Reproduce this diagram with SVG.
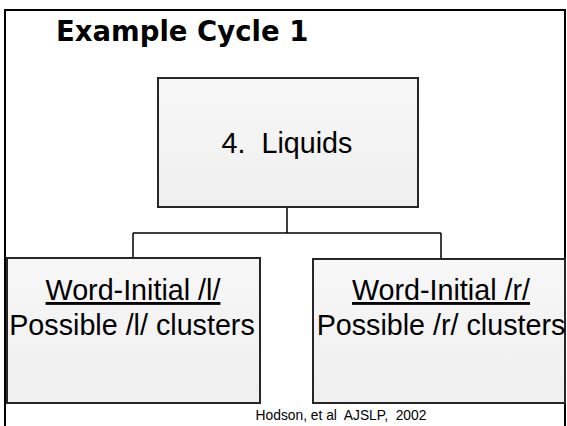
<svg xmlns="http://www.w3.org/2000/svg" width="567" height="426" viewBox="0 0 567 426">
<defs>
<linearGradient id="g" x1="0" y1="0" x2="0" y2="1">
<stop offset="0" stop-color="#f7f7f7"/>
<stop offset="1" stop-color="#efefef"/>
</linearGradient>
</defs>
<style>
.box{fill:url(#g);stroke:#262626;stroke-width:2}
.t{font-family:"Liberation Sans",Arial,sans-serif;fill:#000;text-anchor:middle}
.conn{stroke:#000;stroke-width:1.5;fill:none}
</style>
<rect x="5" y="10" width="560" height="430" fill="#fff" stroke="#000" stroke-width="2"/>
<text x="56" y="41" font-family="'DejaVu Sans',sans-serif" font-weight="bold" font-size="27.5" fill="#000">Example Cycle 1</text>
<g id="connectors">
<path class="conn" d="M287 207V233M133 233H441M133 233V258M441 233V259"/>
</g>
<g id="node-liquids">
<rect class="box" x="158" y="78" width="260" height="129"/>
<text class="t" x="287" y="153" font-size="28.7" xml:space="preserve">4.  Liquids</text>
</g>
<g id="node-l">
<rect class="box" x="7" y="258" width="253" height="145"/>
<text class="t" x="133" y="300" font-size="28.7" text-decoration="underline">Word-Initial /l/</text>
<text class="t" x="132" y="335" font-size="28.7">Possible /l/ clusters</text>
</g>
<g id="node-r">
<rect class="box" x="313" y="259" width="252" height="144"/>
<text class="t" x="441" y="300" font-size="28.7" text-decoration="underline">Word-Initial /r/</text>
<text class="t" x="441" y="335" font-size="28.7">Possible /r/ clusters</text>
</g>
<text class="t" x="341" y="420" font-size="13.8" xml:space="preserve">Hodson, et al  AJSLP,  2002</text>
</svg>
